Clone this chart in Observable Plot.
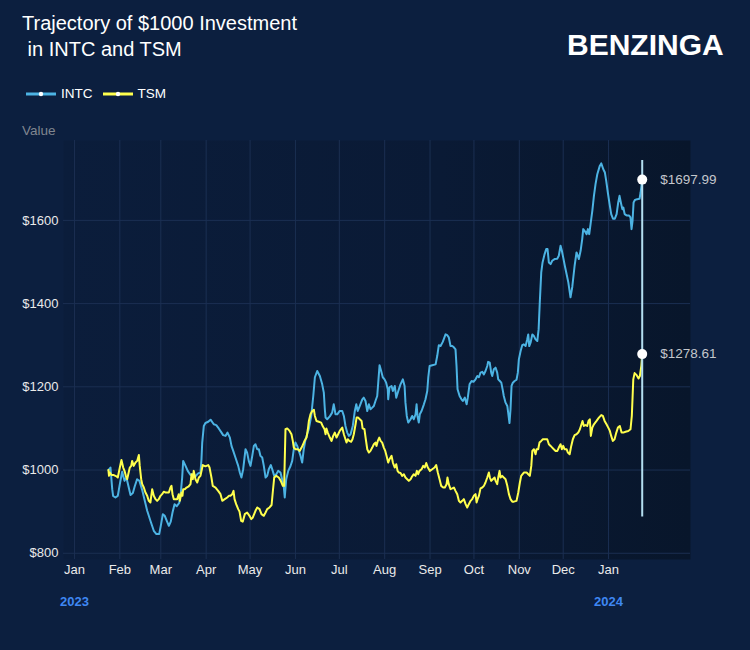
<!DOCTYPE html>
<html><head><meta charset="utf-8">
<script src="https://cdn.jsdelivr.net/npm/d3@7"></script>
<script src="https://cdn.jsdelivr.net/npm/@observablehq/plot@0.6"></script>
<style>
html,body{margin:0;padding:0;background:#0c1f3f;}
#wrap{position:relative;width:750px;height:650px;background:#0c1f3f;font-family:"Liberation Sans",Arial,Helvetica,sans-serif;overflow:hidden;}
#title{position:absolute;left:22px;top:10px;color:#fff;font-size:20px;line-height:26px;white-space:pre;}
#logo{position:absolute;left:567px;top:30px;color:#fff;font-size:30px;line-height:30px;font-weight:bold;}
#legend{position:absolute;left:26px;top:86px;display:flex;align-items:center;color:#fff;font-size:13.5px;line-height:16px;}
.item{display:flex;align-items:center;margin-right:10px;}
.item svg{margin-right:5px;}
#vlabel{position:absolute;left:22px;top:123px;color:#80868f;font-size:13.5px;line-height:16px;}
#chart{position:absolute;left:0;top:120px;}
</style></head>
<body>
<div id="wrap">
  <div id="title">Trajectory of $1000 Investment
 in INTC and TSM</div>
  <div id="logo">BENZINGA</div>
  <div id="legend"></div>
  <div id="vlabel">Value</div>
  <div id="chart"></div>
</div>
<script>
// ---- data (x = days since 2023-01-01, y = value of $1000 invested) ----
const seriesNames = ["INTC", "TSM"];
const seriesColors = ["#4cb3e3", "#ffff4d"];
const intcSeries = [[23.2,1000],[24.6,1006],[25.8,954],[26.4,938],[28.0,934],[29.6,938],[31.0,966],[32.6,996],[34.2,974],[35.5,982],[37.1,958],[38.3,940],[39.9,945],[41.2,961],[42.8,978],[44.4,974],[46.2,953],[47.8,930],[49.7,902],[51.9,878],[54.2,854],[56.0,846],[57.9,846],[59.2,870],[60.4,894],[61.7,890],[63.3,876],[64.5,866],[65.8,876],[67.0,898],[68.4,918],[69.9,913],[71.6,921],[72.7,946],[73.6,982],[74.3,1022],[75.9,1010],[77.4,998],[79.3,988],[81.1,990],[82.7,985],[84.5,992],[86.1,994],[86.8,1026],[87.3,1066],[88.4,1106],[89.5,1113],[91.4,1116],[93.0,1121],[95.2,1110],[96.9,1108],[98.6,1100],[100.5,1090],[101.6,1084],[103.2,1082],[104.6,1090],[106.2,1078],[107.3,1058],[108.5,1046],[110.0,1030],[111.9,1010],[113.0,994],[114.1,982],[115.3,1002],[116.9,1050],[118.0,1042],[119.1,1022],[120.3,1010],[121.5,1034],[122.6,1058],[123.7,1062],[124.9,1050],[126.0,1050],[127.1,1034],[128.3,1030],[129.4,1010],[130.6,982],[131.7,986],[132.8,1002],[134.2,1012],[135.5,998],[136.5,986],[137.9,990],[139.2,998],[140.8,994],[141.9,978],[143.1,958],[143.7,934],[144.7,978],[146.1,998],[147.6,1009],[148.8,1022],[149.9,1050],[151.0,1066],[152.2,1058],[154.5,1034],[155.6,1018],[156.7,1050],[157.9,1074],[160.1,1098],[161.8,1130],[163.2,1178],[164.3,1223],[165.9,1238],[167.7,1226],[169.3,1206],[170.4,1186],[171.1,1146],[171.6,1126],[172.7,1122],[174.5,1129],[176.1,1138],[177.2,1158],[178.4,1134],[179.6,1134],[181.3,1142],[183.0,1142],[184.1,1130],[185.2,1106],[186.4,1090],[187.5,1082],[188.7,1086],[190.2,1106],[191.6,1142],[192.6,1158],[193.6,1142],[195.0,1154],[196.7,1170],[197.7,1174],[198.9,1166],[200.1,1142],[201.2,1158],[202.3,1146],[203.5,1150],[204.6,1154],[205.7,1166],[206.9,1178],[207.6,1210],[208.5,1252],[209.6,1238],[210.7,1223],[211.9,1218],[213.0,1210],[214.1,1194],[214.4,1170],[215.3,1199],[216.7,1202],[217.6,1190],[218.9,1202],[219.9,1174],[221.3,1190],[222.8,1206],[224.4,1218],[225.6,1202],[226.2,1162],[227.1,1130],[228.1,1114],[229.7,1122],[230.8,1130],[231.9,1122],[233.1,1134],[233.8,1158],[234.4,1130],[235.3,1114],[236.0,1134],[237.2,1142],[238.8,1158],[239.9,1170],[241.1,1190],[241.8,1223],[242.7,1250],[244.5,1252],[246.8,1254],[247.9,1274],[249.0,1300],[250.2,1298],[251.7,1308],[253.6,1326],[254.7,1324],[255.8,1319],[257.0,1298],[258.2,1298],[259.3,1295],[260.4,1290],[261.1,1250],[261.8,1194],[263.2,1178],[264.5,1170],[265.4,1166],[266.8,1174],[268.0,1158],[268.8,1174],[270.0,1206],[271.4,1214],[272.7,1212],[274.1,1218],[275.3,1226],[276.4,1223],[277.5,1234],[278.7,1236],[279.8,1230],[280.9,1238],[282.1,1250],[282.7,1260],[283.8,1258],[284.8,1234],[285.5,1226],[286.6,1242],[287.8,1246],[288.9,1234],[289.6,1218],[290.7,1214],[291.7,1210],[292.6,1194],[293.4,1178],[294.6,1162],[295.8,1154],[296.4,1138],[297.3,1113],[298.0,1146],[298.7,1202],[299.6,1210],[300.8,1214],[302.1,1217],[303.0,1234],[303.7,1266],[304.9,1286],[306.0,1300],[307.1,1302],[308.3,1298],[309.4,1314],[310.1,1326],[310.8,1298],[311.7,1306],[312.9,1326],[314.0,1322],[315.1,1314],[316.3,1310],[317.2,1338],[318.0,1403],[319.0,1475],[319.9,1499],[321.3,1519],[322.4,1531],[323.3,1531],[324.2,1499],[325.4,1495],[326.5,1503],[328.1,1507],[329.9,1508],[331.0,1515],[332.2,1539],[333.1,1527],[334.0,1511],[335.1,1491],[336.3,1471],[337.5,1451],[339.0,1415],[340.2,1440],[341.8,1491],[343.1,1523],[344.0,1515],[344.7,1507],[345.9,1527],[347.0,1555],[347.7,1579],[348.6,1575],[350.0,1567],[350.9,1579],[351.8,1567],[352.7,1591],[353.9,1623],[355.0,1659],[356.1,1687],[357.3,1711],[359.0,1731],[360.0,1737],[361.4,1723],[362.5,1715],[363.4,1695],[364.5,1667],[365.7,1639],[366.8,1615],[368.0,1604],[369.3,1604],[370.5,1615],[371.6,1643],[372.5,1659],[373.4,1643],[374.4,1627],[375.1,1631],[376.0,1615],[377.3,1612],[378.9,1612],[380.0,1607],[380.7,1579],[381.4,1599],[382.1,1643],[383.0,1649],[384.6,1651],[386.2,1652],[386.9,1667],[388.0,1697.99]];
const tsmSeries = [[23.2,1000],[23.6,986],[24.1,994],[25.3,988],[26.9,988],[28.7,985],[29.6,982],[31.0,1006],[32.1,1024],[33.3,1006],[34.2,998],[35.1,986],[36.0,978],[37.8,1006],[38.8,1010],[39.4,1022],[40.5,1010],[41.7,1018],[42.9,1022],[44.0,1036],[44.6,1010],[45.6,978],[46.3,966],[47.4,958],[48.5,946],[49.7,938],[50.8,926],[51.9,922],[53.1,954],[54.2,938],[55.4,930],[56.5,926],[57.6,930],[58.8,938],[59.9,942],[61.0,948],[62.2,946],[64.5,946],[65.6,958],[66.3,962],[67.0,942],[67.9,930],[70.2,930],[71.3,942],[72.0,926],[73.1,946],[73.8,938],[74.3,954],[75.4,954],[76.6,958],[78.1,961],[79.3,966],[80.0,990],[80.9,978],[81.5,998],[82.7,978],[83.9,970],[85.0,982],[86.1,986],[87.7,1012],[89.5,1009],[91.4,1012],[92.3,1006],[93.6,982],[94.5,962],[96.4,958],[98.2,950],[99.8,942],[101.0,926],[102.7,930],[104.4,934],[105.5,938],[106.6,938],[107.8,942],[108.7,950],[109.4,930],[110.5,918],[111.9,906],[112.8,900],[113.9,878],[115.0,876],[116.4,894],[118.0,898],[119.6,890],[120.8,882],[121.9,886],[123.7,902],[124.9,910],[126.5,906],[127.8,894],[129.4,890],[130.6,898],[131.7,906],[133.3,910],[134.7,916],[135.5,946],[136.5,982],[137.9,986],[139.6,982],[141.0,974],[142.4,962],[143.3,962],[144.2,1098],[145.4,1100],[147.0,1094],[148.3,1086],[149.2,1070],[149.9,1054],[151.1,1050],[152.6,1050],[154.0,1046],[155.2,1054],[156.3,1062],[157.2,1070],[158.6,1078],[159.5,1098],[160.2,1118],[161.3,1134],[162.5,1142],[163.6,1145],[164.3,1130],[165.4,1118],[167.0,1116],[168.6,1114],[169.7,1105],[170.9,1098],[171.6,1086],[172.2,1100],[173.1,1090],[174.5,1078],[175.7,1070],[176.8,1082],[177.9,1090],[179.1,1078],[180.2,1086],[181.3,1094],[183.0,1102],[184.1,1086],[185.2,1074],[185.9,1066],[186.8,1074],[187.8,1070],[189.1,1068],[190.0,1074],[190.9,1086],[192.1,1110],[192.8,1126],[193.9,1126],[195.0,1122],[196.2,1118],[196.9,1100],[198.2,1098],[199.1,1074],[200.1,1050],[201.2,1042],[202.3,1046],[203.5,1054],[204.6,1062],[205.7,1066],[206.4,1058],[207.3,1070],[208.3,1078],[209.2,1070],[210.3,1066],[211.4,1054],[212.4,1046],[213.3,1034],[214.4,1018],[215.3,1026],[216.7,1034],[217.6,1018],[218.9,1006],[219.9,1014],[220.8,998],[221.7,994],[222.8,993],[224.0,986],[225.1,990],[226.2,982],[227.4,978],[228.5,974],[229.7,978],[230.8,985],[231.9,990],[233.1,986],[234.0,998],[234.9,990],[235.8,998],[237.2,1002],[238.3,1010],[239.4,1006],[240.4,1017],[241.5,1006],[242.9,998],[244.5,1002],[246.1,1006],[247.2,1012],[248.3,994],[249.5,978],[250.6,962],[252.0,958],[253.1,958],[254.3,966],[254.9,982],[255.8,966],[257.0,954],[258.2,956],[259.3,958],[260.4,950],[261.6,942],[262.7,926],[263.8,922],[265.0,926],[266.1,930],[267.3,918],[268.4,910],[269.5,918],[270.7,926],[271.8,930],[272.9,938],[274.1,942],[274.8,922],[275.5,930],[276.4,938],[277.5,956],[278.7,958],[279.8,962],[280.9,970],[282.1,982],[283.2,994],[283.9,982],[284.8,974],[285.9,978],[287.1,982],[287.8,974],[288.9,966],[289.6,982],[290.5,998],[291.2,982],[292.3,986],[293.4,982],[294.6,978],[295.8,962],[296.9,942],[298.0,930],[299.2,924],[300.3,924],[302.1,926],[303.3,946],[304.4,970],[305.3,986],[307.1,994],[309.0,994],[310.1,990],[311.2,986],[312.2,1010],[312.9,1046],[314.0,1050],[315.1,1038],[315.8,1050],[316.9,1050],[317.8,1066],[319.0,1070],[320.1,1074],[321.5,1074],[323.1,1074],[324.2,1062],[325.4,1058],[326.5,1054],[327.6,1050],[328.8,1046],[330.0,1046],[331.0,1054],[332.2,1062],[333.1,1050],[334.0,1058],[334.9,1050],[336.3,1050],[337.2,1042],[338.4,1038],[339.5,1058],[340.6,1074],[341.8,1084],[343.1,1086],[344.3,1090],[345.4,1098],[346.5,1110],[347.2,1118],[348.1,1106],[349.3,1108],[350.4,1106],[351.3,1118],[352.2,1122],[352.9,1082],[353.9,1102],[355.0,1110],[356.8,1118],[358.4,1126],[360.0,1132],[361.1,1130],[362.3,1118],[363.6,1110],[364.8,1102],[365.9,1094],[366.8,1082],[367.9,1070],[369.1,1074],[370.3,1090],[371.4,1102],[372.7,1106],[373.9,1090],[375.1,1090],[376.6,1092],[378.5,1094],[380.0,1098],[380.9,1130],[381.9,1218],[382.8,1233],[384.2,1228],[385.5,1220],[386.4,1226],[387.4,1250],[388.0,1278.61]];
const monthTicks = ["2023-01-01","2023-02-01","2023-03-01","2023-04-01","2023-05-01","2023-06-01","2023-07-01","2023-08-01","2023-09-01","2023-10-01","2023-11-01","2023-12-01","2024-01-01"];
const yearLabels = [["2023-01-01","2023"],["2024-01-01","2024"]];
const yTicks = [800, 1000, 1200, 1400, 1600];
const xDomain = ["2022-12-24T12:00:00Z", "2024-02-26T00:00:00Z"];
const yDomain = [785, 1792];
const cursorRange = [887, 1744];   // extent of the hover line
const endLabels = ["$1697.99", "$1278.61"];

// ---- build ----
const t0 = Date.UTC(2023, 0, 1);
const toDate = d => new Date(t0 + d * 864e5);
const rows = [];
[intcSeries, tsmSeries].forEach((s, i) => s.forEach(([d, v]) => rows.push({date: toDate(d), value: v, name: seriesNames[i]})));
const ends = [intcSeries, tsmSeries].map((s, i) => ({date: toDate(s[s.length-1][0]), value: s[s.length-1][1], label: endLabels[i]}));
const ticks = monthTicks.map(s => new Date(s + "T00:00:00Z"));
const years = yearLabels.map(([d, l]) => ({date: new Date(d + "T00:00:00Z"), label: l}));

// legend
const legend = document.getElementById("legend");
seriesNames.forEach((n, i) => {
  const it = document.createElement("div");
  it.className = "item";
  it.innerHTML = `<svg width="30" height="10"><line x1="0" x2="30" y1="5" y2="5" stroke="${seriesColors[i]}" stroke-width="3"/><circle cx="15" cy="5" r="2.2" fill="#fff"/></svg><span>${n}</span>`;
  legend.appendChild(it);
});

const font = '"Liberation Sans", Arial, Helvetica, sans-serif';
const chart = Plot.plot({
  width: 750, height: 530,
  marginLeft: 63, marginRight: 60, marginTop: 20, marginBottom: 91,
  style: {background: "transparent", fontFamily: font, fontSize: "13px", color: "#e8e8e8", overflow: "visible"},
  x: {type: "utc", domain: xDomain.map(s => new Date(s)), label: null},
  y: {domain: yDomain, label: null},
  color: {domain: seriesNames, range: seriesColors},
  marks: [
    Plot.frame({fill: "url(#plotBg)", stroke: "none"}),
    Plot.gridX({ticks, stroke: "#1b2f52", strokeOpacity: 1}),
    Plot.gridY({ticks: yTicks, stroke: "#1b2f52", strokeOpacity: 1}),
    Plot.axisX({ticks, tickFormat: d3.utcFormat("%b"), tickSize: 0, tickPadding: 5, fill: "#eaeaea", fontSize: 13, label: null}),
    Plot.axisY({ticks: yTicks, tickFormat: d => "$" + d, tickSize: 0, tickPadding: 5, fill: "#eaeaea", fontSize: 13, label: null}),
    Plot.text(years, {x: "date", text: "label", frameAnchor: "bottom", dy: 46, fill: "#3f87f2", fontWeight: "bold", fontSize: 13}),
    Plot.line(rows, {x: "date", y: "value", z: "name", stroke: "name", strokeWidth: 2, curve: "linear"}),
    Plot.ruleX([ends[0]], {x: "date", y1: cursorRange[0], y2: cursorRange[1], stroke: "#b3def0", strokeWidth: 2}),
    Plot.dot(ends, {x: "date", y: "value", r: 5, fill: "#ffffff", stroke: "none"}),
    Plot.text(ends, {x: "date", y: "value", text: "label", dx: 18, textAnchor: "start", fill: "#c4c7cc", fontSize: 13.5})
  ]
});
const defs = d3.select(chart).insert("defs", ":first-child");
const g = defs.append("linearGradient").attr("id", "plotBg").attr("x1", 0).attr("x2", 1).attr("y1", 0).attr("y2", 0);
g.append("stop").attr("offset", 0).attr("stop-color", "#0b1d3b");
g.append("stop").attr("offset", 0.6).attr("stop-color", "#0a1a35");
g.append("stop").attr("offset", 1).attr("stop-color", "#08162b");
document.getElementById("chart").appendChild(chart);
</script>
</body></html>
